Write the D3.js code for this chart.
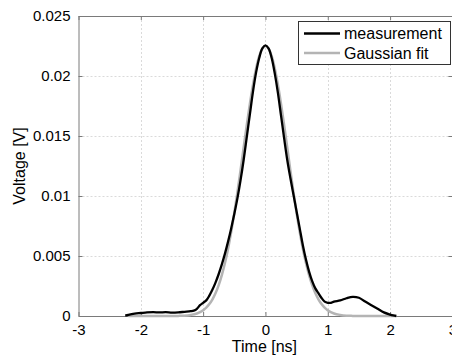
<!DOCTYPE html>
<html><head><meta charset="utf-8">
<script src="https://cdn.jsdelivr.net/npm/d3@7"></script>
<style>body{margin:0;background:#fff;} svg{display:block;font-family:"Liberation Sans",Arial,sans-serif;}</style>
</head><body><svg id="c" width="452" height="357"></svg>
<script>
const xTicks = [-3,-2,-1,0,1,2,3];
const xTickLabels = ["-3","-2","-1","0","1","2","3"];
const yTicks = [0,0.005,0.01,0.015,0.02,0.025];
const yTickLabels = ["0","0.005","0.01","0.015","0.02","0.025"];
const seriesNames = ["measurement","Gaussian fit"];
const measT = [-2.25,-2.2,-2.1,-2.0,-1.9,-1.8,-1.7,-1.6,-1.5,-1.4,-1.3,-1.2,-1.15,-1.1,-1.05,-1.0,-0.95,-0.9,-0.85,-0.8,-0.75,-0.7,-0.65,-0.6,-0.55,-0.5,-0.45,-0.4,-0.35,-0.3,-0.25,-0.2,-0.15,-0.1,-0.05,0,0.05,0.1,0.15,0.2,0.25,0.3,0.35,0.4,0.45,0.5,0.55,0.6,0.65,0.7,0.75,0.8,0.85,0.9,0.95,1.0,1.05,1.1,1.2,1.3,1.4,1.5,1.6,1.7,1.8,1.9,2.0,2.05,2.1];
const measV = [0.00003,0.0001,0.0002,0.00025,0.0003,0.00032,0.0003,0.00032,0.00028,0.0003,0.00035,0.0004,0.00045,0.0006,0.0009,0.0011,0.0013,0.0017,0.0022,0.0028,0.0035,0.0043,0.0052,0.0062,0.0073,0.0085,0.0098,0.0113,0.0130,0.0149,0.0168,0.0187,0.0203,0.0215,0.0223,0.02255,0.0223,0.0215,0.0202,0.0186,0.0167,0.0148,0.0130,0.0115,0.0101,0.0087,0.0073,0.0059,0.0047,0.0037,0.0029,0.0023,0.0019,0.0015,0.0012,0.0011,0.0011,0.0012,0.0013,0.00148,0.0016,0.00152,0.0012,0.0009,0.0006,0.0003,0.00012,0.00005,0.0];
const fitT = [-2.2,-1.5,-1.4,-1.3,-1.2,-1.1,-1.0,-0.95,-0.9,-0.85,-0.8,-0.75,-0.7,-0.65,-0.6,-0.55,-0.5,-0.45,-0.4,-0.35,-0.3,-0.25,-0.2,-0.15,-0.1,-0.05,0,0.05,0.1,0.15,0.2,0.25,0.3,0.35,0.4,0.45,0.5,0.55,0.6,0.65,0.7,0.75,0.8,0.85,0.9,0.95,1.0,1.1,1.2,1.3,1.4,1.5,2.1];
const fitV = [0,0,0.00001,0.00003,0.00009,0.00021,0.00047,0.00069,0.00099,0.00139,0.00191,0.00257,0.0034,0.00441,0.00561,0.007,0.00858,0.0103,0.01214,0.01403,0.0159,0.01768,0.01928,0.02063,0.02165,0.02228,0.0225,0.02228,0.02165,0.02063,0.01928,0.01768,0.0159,0.01403,0.01214,0.0103,0.00858,0.007,0.00561,0.00441,0.0034,0.00257,0.00191,0.00139,0.00099,0.00069,0.00047,0.00021,0.00009,0.00003,0.00001,0,0];

const svg = d3.select("#c");
const L = 78.5, R = 452.4, T = 16, B = 316;
const x = d3.scaleLinear().domain([-3,3]).range([L,R]);
const y = d3.scaleLinear().domain([0,0.025]).range([B,T]);
const axisCol = "#7a7a7a";

// grid
const g = svg.append("g");
g.selectAll(".gx").data(xTicks.slice(1,-1)).join("line")
  .attr("x1",d=>Math.round(x(d))+0.5).attr("x2",d=>Math.round(x(d))+0.5).attr("y1",T).attr("y2",B)
  .attr("stroke","#dadada").attr("stroke-width",1).attr("stroke-dasharray","2,2");
g.selectAll(".gy").data(yTicks.slice(1,-1)).join("line")
  .attr("y1",d=>Math.round(y(d))+0.5).attr("y2",d=>Math.round(y(d))+0.5).attr("x1",L).attr("x2",R)
  .attr("stroke","#dadada").attr("stroke-width",1).attr("stroke-dasharray","2,2");

// axes
const fmtY = d => yTickLabels[yTicks.indexOf(d)];
const fmtX = d => xTickLabels[xTicks.indexOf(d)];
const ax = (sel)=>{sel.select(".domain").attr("stroke",axisCol);sel.selectAll(".tick line").attr("stroke",axisCol);sel.selectAll("text").attr("fill","#000").style("font-size","15px").style("font-family","'Liberation Sans',Arial,sans-serif");};
svg.append("g").attr("transform",`translate(0,${B})`)
  .call(d3.axisBottom(x).tickValues(xTicks).tickSizeInner(-4).tickSizeOuter(0).tickPadding(8).tickFormat(fmtX))
  .call(ax);
svg.append("g").attr("transform",`translate(0,${T})`)
  .call(d3.axisTop(x).tickValues(xTicks).tickSizeInner(-4).tickSizeOuter(0).tickFormat(""))
  .call(ax);
svg.append("g").attr("transform",`translate(${L},0)`)
  .call(d3.axisLeft(y).tickValues(yTicks).tickSizeInner(-4).tickSizeOuter(0).tickPadding(8).tickFormat(fmtY))
  .call(ax);
svg.append("g").attr("transform",`translate(${R},0)`)
  .call(d3.axisRight(y).tickValues(yTicks).tickSizeInner(-4).tickSizeOuter(0).tickFormat(""))
  .call(ax);

// lines
const line = d3.line().x(d=>x(d[0])).y(d=>y(d[1])).curve(d3.curveCatmullRom.alpha(0.5));
svg.append("path").datum(fitT.map((t,i)=>[t,fitV[i]])).attr("d",line)
  .attr("fill","none").attr("stroke","#b4b4b4").attr("stroke-width",2.5).attr("stroke-linejoin","round");
svg.append("path").datum(measT.map((t,i)=>[t,measV[i]])).attr("d",line)
  .attr("fill","none").attr("stroke","#000").attr("stroke-width",2.3).attr("stroke-linejoin","round");

// labels
svg.append("text").attr("x",(L+R)/2-1).attr("y",352).attr("text-anchor","middle")
  .style("font-size","16px").text("Time [ns]");
svg.append("text").attr("transform",`translate(25,${(T+B)/2}) rotate(-90)`).attr("text-anchor","middle")
  .style("font-size","16px").text("Voltage [V]");

// legend
const lg = svg.append("g");
lg.append("rect").attr("x",298.5).attr("y",21.5).attr("width",152).attr("height",43)
  .attr("fill","#fff").attr("stroke","#333").attr("stroke-width",1);
const cols = ["#000","#b4b4b4"];
seriesNames.forEach((n,i)=>{
  const yy = 33.5 + i*19.5;
  lg.append("line").attr("x1",304).attr("x2",340).attr("y1",yy).attr("y2",yy).attr("stroke",cols[i]).attr("stroke-width",2.5);
  lg.append("text").attr("x",344).attr("y",yy+5.5).style("font-size","16px").text(n);
});
</script></body></html>
